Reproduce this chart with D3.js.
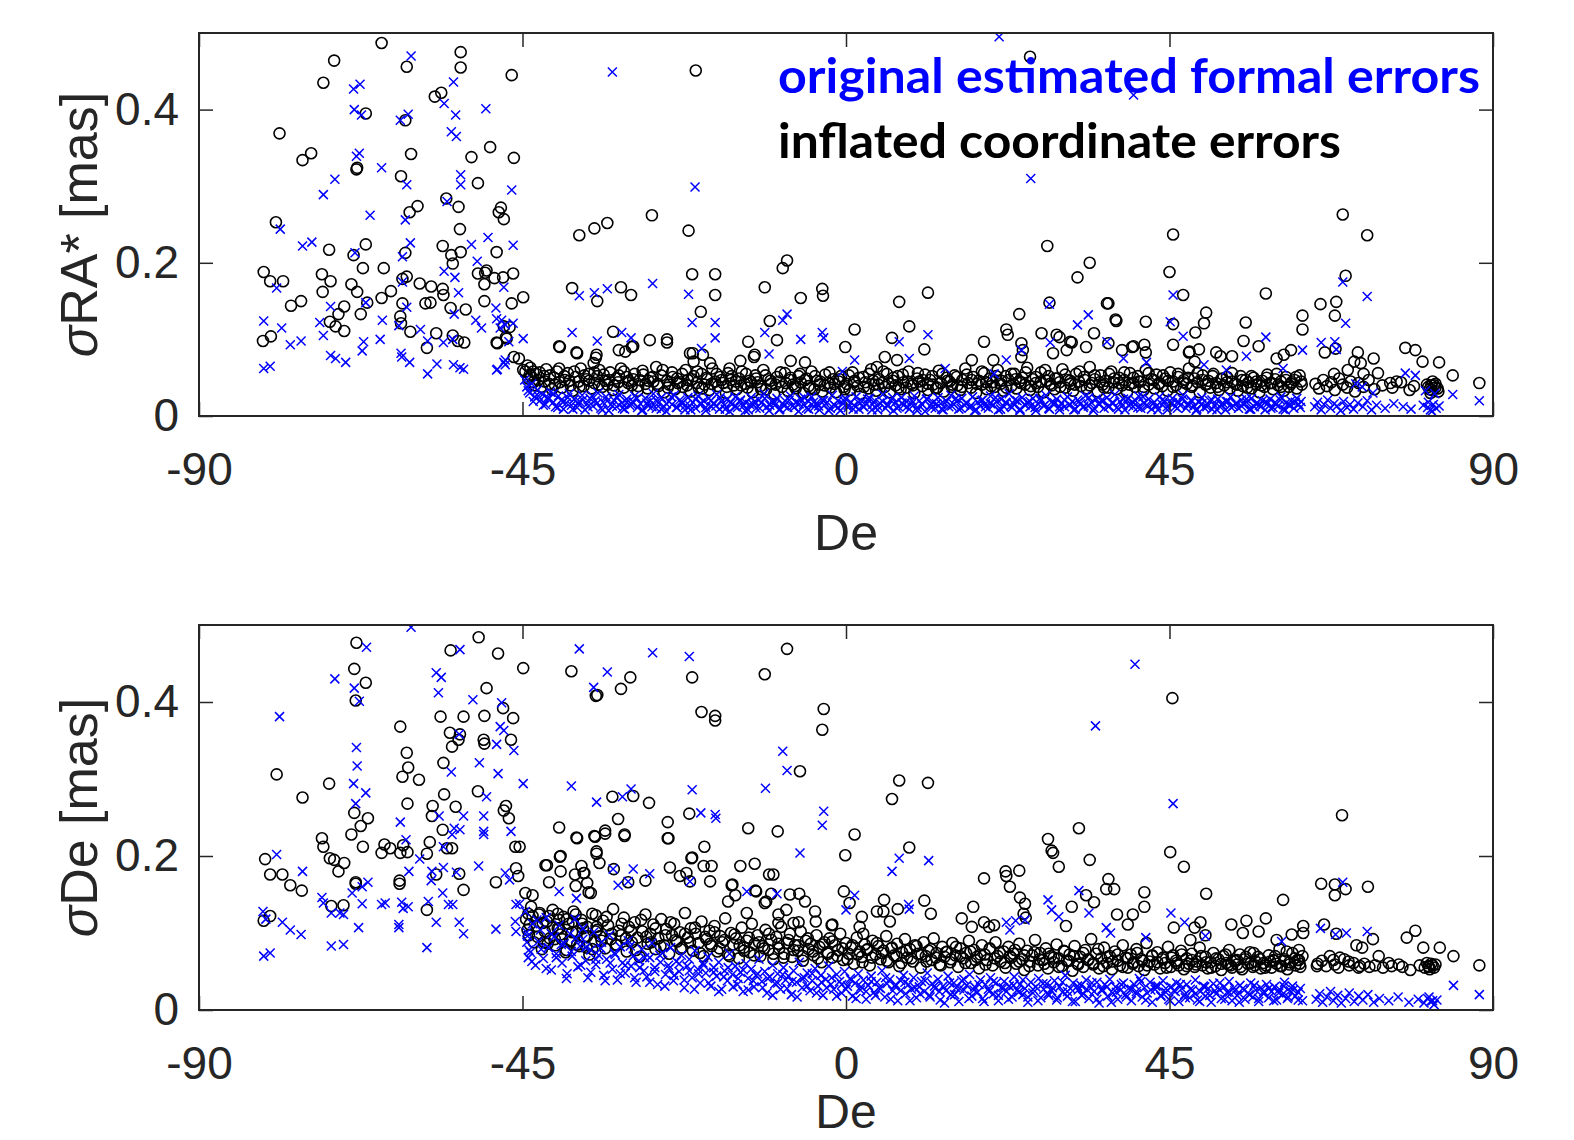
<!DOCTYPE html>
<html>
<head>
<meta charset="utf-8">
<script src="https://cdn.jsdelivr.net/npm/d3@7"></script>
<style>
  html, body { margin: 0; padding: 0; background: #ffffff; }
  svg { display: block; }
</style>
</head>
<body>
<svg id="chart" width="1574" height="1140"></svg>
<script>
// Each entry: [declination in degrees, error in µas]

// σRA*, inflated coordinate errors (black circles)
const raInflated = [
  [-64.6,487],[-71.2,464],[-72.7,435],[-61.1,456],[-53.6,475],[-53.6,455],[-46.5,445],[-57.2,417],[-56.3,422],[-66.8,395],
  [-61.3,386],[-78.8,369],[-75.6,334],[-74.4,343],[-60.5,342],[-52.1,338],[-49.5,351],[-46.2,337],[-68.1,322],[-68.0,324],
  [-61.9,313],[-51.2,304],[-55.6,284],[-53.9,273],[-59.6,274],[-60.7,266],[-48.0,272],[-48.3,266],[-47.6,257],[-79.3,253],
  [-53.7,244],[-71.9,217],[-66.8,224],[-68.5,210],[-56.1,222],[-54.9,210],[-53.6,214],[-54.7,199],[-61.3,213],[-48.6,214],
  [-81.0,188],[-80.1,176],[-78.3,176],[-72.9,185],[-71.7,176],[-67.2,193],[-64.3,193],[-68.8,172],[-68.0,162],[-72.8,162],
  [-67.5,133],[-61.1,182],[-61.7,179],[-59.3,173],[-57.7,169],[-56.1,166],[-56.0,158],[-51.2,186],[-50.2,187],[-50.0,190],
  [-48.9,180],[-47.7,181],[-46.3,186],[-50.3,172],[-50.3,150],[-44.9,155],[-46.5,147],[-75.8,150],[-77.2,144],[-64.6,154],
  [-63.3,163],[-66.6,148],[-61.7,147],[-58.5,147],[-57.8,148],[-55.0,141],[-52.9,139],[-69.8,143],[-70.6,133],[-71.8,123],
  [-71.0,117],[-69.8,111],[-62.0,130],[-61.9,121],[-60.6,110],[-57.0,108],[-58.3,89],[-54.7,105],[-54.0,98],[-53.1,96],
  [-47.6,117],[-46.8,116],[-47.3,103],[-48.5,95],[-81.1,98],[-80.0,104],[-46.2,77],[-45.5,75],[-48.6,96],[-47.2,101],
  [-20.9,451],[-37.1,236],[-35.0,245],[-33.2,252],[-27.0,262],[-21.9,242],[25.6,469],[28.0,222],[-38.1,167],[-34.6,150],
  [-31.3,168],[-29.9,158],[-21.4,185],[-18.2,185],[-18.2,158],[-20.2,136],[-32.4,110],[-11.3,168],[-8.8,193],[-8.2,203],
  [-6.3,154],[-3.3,166],[-3.2,157],[-10.6,124],[-9.6,99],[-13.6,97],[7.4,149],[11.4,161],[8.8,117],[1.2,113],
  [6.4,102],[-0.1,90],[10.9,87],[24.1,133],[22.3,113],[22.5,106],[19.2,97],[24.6,86],[24.4,77],[28.3,148],
  [27.2,108],[29.3,106],[31.2,97],[32.2,181],[-27.3,99],[-24.9,100],[-24.9,96],[-29.8,90],[-31.6,86],[-37.4,82],
  [-34.8,76],[-39.8,90],[-21.3,82],[-14.7,72],[-12.8,77],[-7.7,72],[-5.7,70],[4.3,64],[5.4,77],[7.1,73],
  [17.5,73],[20.5,73],[33.9,200],[45.5,237],[45.0,188],[46.9,158],[69.1,263],[72.5,236],[69.5,183],[58.4,160],
  [36.5,147],[37.5,126],[41.7,123],[45.5,120],[50.1,135],[49.8,121],[48.6,109],[34.5,108],[29.7,103],[31.4,96],
  [33.4,90],[55.6,122],[55.3,98],[57.4,91],[63.5,131],[63.5,113],[66.0,146],[68.2,149],[68.0,131],[66.6,83],
  [68.1,88],[77.8,89],[79.2,86],[80.2,71],[82.5,70],[84.4,53],[88.1,43],[71.2,83],[70.7,71],[71.6,69],
  [73.4,75],[61.9,86],[60.9,80],[59.9,75],[53.7,78],[52.1,78],[51.5,83],[47.7,83],[49.1,87],[39.8,90],
  [41.5,93],[41.7,83],[36.5,95],[38.4,86],[36.3,147],[37.6,124],[24.4,95],[28.8,82],[30.7,86],[45.5,93],
  [47.8,84],[48.5,71],[40.0,91],[-30.7,84],[-29.6,91],[-39.9,91],[-37.5,83],[-34.7,80],[-35.1,69],[-21.7,82],
  [-19.9,80],[-18.9,69],[-21.2,71],[-12.7,80],[-16.2,62],[-44.9,60],[-43.5,58],[-44.3,66],[-43.8,52],[74.0,56],
  [75.7,43],[76.6,45],[78.4,34],[81.0,38],[81.5,34],[82.0,42],[82.3,36],[81.3,30],[81.8,40],[72.0,55],
  [69.8,60],[67.9,55],
  [-44.6,58],[-44.2,49],[-43.9,63],[-43.5,44],[-43.1,55],[-42.8,47],[-42.4,38],[-42.0,52],[-41.7,61],[-41.3,42],
  [-40.9,35],[-40.6,50],[-40.2,58],[-39.8,44],[-39.5,37],[-39.1,47],[-38.7,56],[-38.3,40],[-38.0,33],[-37.6,51],
  [-37.2,45],[-36.9,62],[-36.5,39],[-36.1,48],[-35.8,55],[-35.4,36],[-35.0,43],[-34.6,52],[-34.3,60],[-33.9,38],
  [-33.5,46],[-33.2,41],[-32.8,57],[-32.4,34],[-32.0,49],[-31.7,44],[-31.3,62],[-30.9,37],[-30.5,51],[-30.2,46],
  [-29.8,40],[-29.4,55],[-29.0,33],[-28.7,47],[-28.3,59],[-27.9,42],[-27.6,36],[-27.2,50],[-26.8,45],[-26.4,64],
  [-26.1,39],[-25.7,53],[-25.3,31],[-24.9,46],[-24.6,41],[-24.2,57],[-23.8,35],[-23.5,49],[-23.1,44],[-22.7,38],
  [-22.3,60],[-22.0,47],[-21.6,32],[-21.2,52],[-20.8,43],[-20.5,37],[-20.1,55],[-19.7,41],[-19.3,48],[-19.0,34],
  [-18.6,62],[-18.2,45],[-17.8,39],[-17.5,51],[-17.1,43],[-16.7,30],[-16.4,56],[-16.0,47],[-15.6,40],[-15.2,35],
  [-14.9,49],[-14.5,58],[-14.1,42],[-13.7,37],[-13.4,46],[-13.0,31],[-12.6,53],[-12.3,44],[-11.9,39],[-11.5,60],
  [-11.1,35],[-10.8,48],[-10.4,42],[-10.0,29],[-9.6,51],[-9.3,45],[-8.9,38],[-8.5,56],[-8.1,33],[-7.8,47],
  [-7.4,41],[-7.0,36],[-6.6,52],[-6.3,44],[-5.9,30],[-5.5,49],[-5.2,39],[-4.8,58],[-4.4,35],[-4.0,46],
  [-3.7,41],[-3.3,32],[-2.9,54],[-2.5,43],[-2.2,37],[-1.8,48],[-1.4,31],[-1.0,45],[-0.7,52],[-0.3,38],
  [0.1,42],[0.5,34],[0.9,57],[1.2,46],[1.6,39],[2.0,29],[2.4,51],[2.7,44],[3.1,36],[3.5,61],
  [3.9,41],[4.2,33],[4.6,48],[5.0,43],[5.4,38],[5.7,55],[6.1,31],[6.5,46],[6.9,40],[7.2,52],
  [7.6,35],[8.0,44],[8.4,37],[8.7,58],[9.1,42],[9.5,30],[9.9,49],[10.2,45],[10.6,39],[11.0,54],
  [11.4,34],[11.7,47],[12.1,41],[12.5,36],[12.9,59],[13.2,43],[13.6,32],[14.0,50],[14.4,45],[14.7,38],
  [15.1,53],[15.5,40],[15.9,34],[16.2,47],[16.6,62],[17.0,43],[17.4,37],[17.7,51],[18.1,30],[18.5,46],
  [18.9,41],[19.2,56],[19.6,35],[20.0,49],[20.4,44],[20.7,38],[21.1,60],[21.5,42],[21.9,33],[22.2,52],
  [22.6,47],[23.0,39],[23.4,55],[23.7,36],[24.1,45],[24.5,50],[24.9,41],[25.2,63],[25.6,34],[26.0,48],
  [26.4,43],[26.7,38],[27.1,57],[27.5,31],[27.9,46],[28.2,52],[28.6,40],[29.0,35],[29.4,49],[29.7,44],
  [30.1,61],[30.5,37],[30.9,47],[31.2,42],[31.6,33],[32.0,55],[32.4,45],[32.7,39],[33.1,51],[33.5,36],
  [33.9,64],[34.2,43],[34.6,48],[35.0,32],[35.4,53],[35.7,41],[36.1,46],[36.5,37],[36.9,58],[37.2,44],
  [37.6,35],[38.0,50],[38.4,40],[38.7,47],[39.1,31],[39.5,56],[39.9,43],[40.2,38],[40.6,52],[41.0,45],
  [41.4,34],[41.7,60],[42.1,41],[42.5,48],[42.9,36],[43.2,54],[43.6,43],[44.0,39],[44.4,49],[44.7,33],
  [45.1,57],[45.5,45],[45.9,40],[46.2,51],[46.6,35],[47.0,47],[47.4,42],[47.7,62],[48.1,38],[48.5,49],
  [48.9,44],[49.2,31],[49.6,53],[50.0,41],[50.4,46],[50.7,37],[51.1,55],[51.5,43],[51.9,34],[52.2,48],
  [52.6,40],[53.0,51],[53.4,36],[53.7,45],[54.1,42],[54.5,33],[54.9,52],[55.2,39],[55.6,47],[56.0,44],
  [56.4,36],[56.7,50],[57.1,41],[57.5,31],[57.9,46],[58.2,38],[58.6,54],[59.0,43],[59.4,35],[59.7,48],
  [60.1,40],[60.5,45],[60.9,33],[61.2,51],[61.6,38],[62.0,44],[62.4,47],[62.7,36],[63.1,53],[63.4,41],
  [65.3,42],[65.8,36],[66.4,47],[66.9,39],[67.5,44],[68.0,34],[68.6,49],[69.1,41],[69.7,37],[70.2,45],
  [70.8,32],[71.3,43],[72.0,38],[72.7,47],[73.5,35],[74.6,40],[76.0,37],[77.2,44],[79.0,39],[80.8,41],
  [81.2,35],[81.6,45],[82.0,37],[82.4,32],[81.4,40],
  [-44.0,54],[-43.3,40],[-42.6,57],[-41.9,45],[-41.2,53],[-40.5,41],[-39.9,62],[-39.2,52],[-38.5,46],[-37.8,58],
  [-37.1,38],[-36.4,53],[-35.7,46],[-35.0,57],[-34.4,41],[-33.7,54],[-33.0,47],[-32.3,40],[-31.6,53],[-30.9,58],
  [-30.3,43],[-29.6,48],[-28.9,39],[-28.2,54],[-27.5,46],[-26.9,51],[-26.2,42],[-25.5,60],[-24.8,37],[-24.1,51],
  [-23.4,43],[-22.8,55],[-22.1,40],[-21.4,48],[-20.7,58],[-20.0,36],[-19.4,50],[-18.7,42],[-18.0,55],[-17.3,47],
  [-16.6,38],[-15.9,52],[-15.3,45],[-14.6,40],[-13.9,55],[-13.2,44],[-12.5,49],[-11.8,35],[-11.2,53],[-10.5,46],
  [-9.8,41],[-9.1,57],[-8.4,43],[-7.7,50],[-7.1,39],[-6.4,55],[-5.7,47],[-5.0,36],[-4.3,52],[-3.6,45],
  [-3.0,40],[-2.3,57],[-1.6,42],[-0.9,48],[-0.2,35],[0.4,53],[1.1,44],[1.8,50],[2.5,38],[3.2,55],
  [3.8,46],[4.5,41],[5.2,58],[5.9,43],[6.6,50],[7.3,37],[7.9,54],[8.6,45],[9.3,40],[10.0,56],
  [10.7,47],[11.4,42],[12.0,52],[12.7,37],[13.4,55],[14.1,46],[14.8,41],[15.4,51],[16.1,38],[16.8,54],
  [17.5,47],[18.2,42],[18.9,58],[19.5,44],[20.2,39],[20.9,52],[21.6,46],[22.3,37],[23.0,55],[23.6,48],
  [24.3,43],[25.0,57],[25.7,39],[26.4,51],[27.1,45],[27.7,60],[28.4,42],[29.1,49],[29.8,38],[30.5,54],
  [31.2,46],[31.8,41],[32.5,58],[33.2,47],[33.9,40],[34.6,53],[35.3,44],[35.9,37],[36.6,55],[37.3,49],
  [38.0,43],[38.7,57],[39.4,41],[40.0,50],[40.7,45],[41.4,38],[42.1,56],[42.8,47],[43.5,42],[44.1,53],
  [44.8,46],[45.5,38],[46.2,55],[46.9,44],[47.6,50],[48.2,40],[48.9,56],[49.6,47],[50.3,42],[51.0,52],
  [51.7,38],[52.3,49],[53.0,44],[53.7,56],[54.4,41],[55.1,47],[55.8,37],[56.4,52],[57.1,45],[57.8,40],
  [58.5,50],[59.2,43],[59.9,55],[60.5,38],[61.2,47],[61.9,42],[62.6,51],[63.3,45]
];

// σRA*, original estimated formal errors (blue crosses)
const raFormal = [
  [-60.5,470],[-68.5,427],[-67.6,433],[-54.6,436],[-55.9,408],[-50.1,401],[-68.4,400],[-67.4,393],[-62.0,386],[-60.9,394],
  [-54.3,393],[-54.9,371],[-54.2,365],[-68.1,339],[-67.7,343],[-64.6,324],[-71.1,309],[-72.7,289],[-53.6,315],[-53.6,302],
  [-61.1,302],[-46.5,295],[-55.5,280],[-66.2,262],[-61.3,256],[-78.7,244],[-75.6,222],[-74.3,227],[-60.6,226],[-52.1,224],
  [-49.8,233],[-46.3,223],[-68.3,213],[-61.7,208],[-51.3,202],[-55.9,189],[-54.4,181],[-61.7,175],[-79.2,167],[-47.6,168],
  [-66.8,148],[-53.9,161],[-71.7,143],[-61.1,142],[-48.7,141],[-54.5,133],[-81.0,124],[-78.5,115],[-73.2,122],[-72.7,105],
  [-64.5,125],[-62.2,118],[-59.2,113],[-51.5,125],[-50.7,115],[-48.6,127],[-48.1,115],[-44.9,101],[-77.3,93],[-75.8,98],
  [-64.8,100],[-58.2,98],[-56.0,96],[-54.7,100],[-46.9,97],[-71.7,79],[-71.0,75],[-69.6,70],[-67.3,85],[-61.9,82],
  [-61.8,77],[-60.7,70],[-67.1,97],[-58.2,55],[-56.9,68],[-54.6,67],[-53.7,63],[-53.2,61],[-48.5,61],[-81.0,62],
  [-80.1,65],[-47.6,70],[-47.9,125],[-46.3,121],[-47.4,119],[-48.6,60],[-47.4,73],[-47.4,67],
  [-32.5,449],[21.3,495],[-21.0,299],[25.7,310],[-37.1,157],[-35.0,161],[-33.2,166],[-26.9,173],[-21.9,159],[-21.4,122],
  [-18.2,122],[-18.2,102],[-38.1,109],[-34.6,98],[-31.2,109],[-29.9,102],[-11.3,109],[-8.8,125],[-8.2,133],[-6.3,100],
  [-3.3,109],[-3.1,102],[-10.7,81],[-20.1,88],[7.4,97],[11.4,106],[8.8,75],[1.2,73],[28.3,146],[28.4,96],
  [32.2,119],[22.3,73],[24.4,86],[40.0,419],[33.7,132],[45.1,123],[36.3,97],[46.9,104],[-0.5,58],[13.8,62],
  [20.6,55],[45.5,158],[69.1,175],[72.5,156],[69.5,121],[58.4,103],[68.0,97],[68.2,87],[66.1,96],[63.5,86],
  [55.7,78],[77.8,56],[79.2,53],[84.4,28],[88.1,20],[38.6,75],[41.8,70],[49.8,67],[52.9,60],[60.8,62],
  [70.9,42],[71.8,38],[73.3,30],[80.6,33],[81.9,29],
  [-44.7,47],[-44.4,38],[-44.0,30],[-43.7,42],[-43.3,25],[-42.9,34],[-42.6,20],[-42.2,28],[-41.8,15],[-41.5,24],
  [-41.1,31],[-40.7,18],[-40.4,12],[-40.0,26],[-39.6,21],[-39.3,9],[-38.9,17],[-38.5,29],[-38.2,14],[-37.8,22],
  [-37.4,11],[-37.1,19],[-36.7,27],[-36.3,8],[-36.0,16],[-35.6,23],[-35.2,13],[-34.9,20],[-34.5,30],[-34.1,10],
  [-33.8,18],[-33.4,25],[-33.0,7],[-32.7,15],[-32.3,21],[-31.9,12],[-31.6,28],[-31.2,17],[-30.8,9],[-30.5,22],
  [-30.1,14],[-29.7,19],[-29.4,26],[-29.0,11],[-28.6,16],[-28.3,8],[-27.9,23],[-27.5,13],[-27.2,20],[-26.8,29],
  [-26.4,10],[-26.1,17],[-25.7,24],[-25.3,12],[-25.0,6],[-24.6,19],[-24.2,15],[-23.9,27],[-23.5,11],[-23.1,21],
  [-22.8,16],[-22.4,8],[-22.0,24],[-21.7,13],[-21.3,18],[-20.9,10],[-20.6,26],[-20.2,15],[-19.8,20],[-19.5,7],
  [-19.1,23],[-18.7,12],[-18.4,17],[-18.0,28],[-17.6,9],[-17.3,19],[-16.9,14],[-16.5,22],[-16.2,6],[-15.8,16],
  [-15.4,25],[-15.1,11],[-14.7,20],[-14.3,13],[-14.0,18],[-13.6,8],[-13.2,24],[-12.9,15],[-12.5,10],[-12.1,21],
  [-11.8,17],[-11.4,29],[-11.0,12],[-10.7,7],[-10.3,19],[-9.9,14],[-9.6,23],[-9.2,9],[-8.8,16],[-8.5,20],
  [-8.1,11],[-7.7,26],[-7.4,13],[-7.0,18],[-6.6,6],[-6.3,22],[-5.9,15],[-5.5,10],[-5.2,19],[-4.8,25],
  [-4.4,12],[-4.1,17],[-3.7,8],[-3.3,21],[-3.0,14],[-2.6,18],[-2.2,10],[-1.9,27],[-1.5,13],[-1.1,20],
  [-0.8,7],[-0.4,16],[0.0,22],[0.3,11],[0.7,18],[1.1,14],[1.4,25],[1.8,9],[2.2,19],[2.5,12],
  [2.9,16],[3.3,23],[3.6,8],[4.0,20],[4.4,13],[4.7,17],[5.1,28],[5.5,10],[5.8,15],[6.2,21],
  [6.6,7],[6.9,18],[7.3,12],[7.7,24],[8.0,14],[8.4,19],[8.8,9],[9.1,16],[9.5,26],[9.9,11],
  [10.2,20],[10.6,15],[11.0,6],[11.3,22],[11.7,13],[12.1,18],[12.4,10],[12.8,24],[13.2,16],[13.5,8],
  [13.9,20],[14.3,12],[14.6,27],[15.0,15],[15.4,19],[15.7,9],[16.1,23],[16.5,14],[16.8,17],[17.2,11],
  [17.6,25],[17.9,7],[18.3,18],[18.7,13],[19.0,21],[19.4,16],[19.8,10],[20.1,26],[20.5,14],[20.9,19],
  [21.2,8],[21.6,22],[22.0,12],[22.3,17],[22.7,29],[23.1,11],[23.4,15],[23.8,20],[24.2,9],[24.5,24],
  [24.9,14],[25.3,18],[25.6,12],[26.0,23],[26.4,7],[26.7,16],[27.1,20],[27.5,13],[27.8,27],[28.2,10],
  [28.6,18],[28.9,15],[29.3,22],[29.7,8],[30.0,17],[30.4,12],[30.8,25],[31.1,14],[31.5,19],[31.9,9],
  [32.2,21],[32.6,16],[33.0,11],[33.3,26],[33.7,13],[34.1,18],[34.4,7],[34.8,22],[35.2,15],[35.5,20],
  [35.9,10],[36.3,24],[36.6,13],[37.0,17],[37.4,28],[37.7,11],[38.1,19],[38.5,14],[38.8,8],[39.2,23],
  [39.6,16],[39.9,12],[40.3,20],[40.7,26],[41.0,10],[41.4,17],[41.8,14],[42.1,22],[42.5,9],[42.9,18],
  [43.2,13],[43.6,25],[44.0,15],[44.3,20],[44.7,8],[45.1,17],[45.4,23],[45.8,12],[46.2,19],[46.5,14],
  [46.9,27],[47.3,10],[47.6,16],[48.0,21],[48.4,13],[48.7,7],[49.1,18],[49.5,24],[49.8,11],[50.2,16],
  [50.6,20],[50.9,9],[51.3,14],[51.7,22],[52.0,12],[52.4,17],[52.8,8],[53.1,19],[53.5,25],[53.9,13],
  [54.2,16],[54.6,10],[55.0,21],[55.3,15],[55.7,18],[56.1,9],[56.4,23],[56.8,12],[57.2,17],[57.5,14],
  [57.9,20],[58.3,8],[58.6,16],[59.0,22],[59.4,11],[59.7,18],[60.1,13],[60.5,25],[60.8,9],[61.2,17],
  [61.6,14],[61.9,20],[62.3,10],[62.7,23],[63.0,15],[63.3,19],[65.2,12],[65.6,18],[66.1,8],[66.5,15],
  [67.0,21],[67.4,10],[67.9,16],[68.3,13],[68.8,7],[69.2,19],[69.7,11],[70.1,15],[70.6,9],[71.2,17],
  [71.9,12],[72.5,20],[73.1,8],[73.8,14],[75.0,10],[76.2,16],[77.5,12],[78.6,9],[80.3,14],[80.9,11],
  [81.3,8],[81.7,15],[82.1,10],[82.5,13],[81.0,18],[81.5,6],
  [-44.2,33],[-43.5,19],[-42.8,26],[-42.1,14],[-41.4,22],[-40.7,29],[-40.1,11],[-39.4,18],[-38.7,24],[-38.0,9],
  [-37.3,16],[-36.6,21],[-35.9,12],[-35.3,26],[-34.6,17],[-33.9,8],[-33.2,20],[-32.5,13],[-31.8,24],[-31.1,10],
  [-30.5,18],[-29.8,15],[-29.1,23],[-28.4,7],[-27.7,17],[-27.0,12],[-26.4,21],[-25.7,9],[-25.0,16],[-24.3,25],
  [-23.6,11],[-22.9,19],[-22.3,14],[-21.6,8],[-20.9,22],[-20.2,17],[-19.5,11],[-18.8,20],[-18.1,13],[-17.5,24],
  [-16.8,9],[-16.1,17],[-15.4,12],[-14.7,21],[-14.0,7],[-13.4,15],[-12.7,19],[-12.0,10],[-11.3,23],[-10.6,14],
  [-9.9,18],[-9.3,8],[-8.6,13],[-7.9,21],[-7.2,11],[-6.5,16],[-5.8,24],[-5.2,9],[-4.5,18],[-3.8,13],
  [-3.1,20],[-2.4,7],[-1.7,15],[-1.1,11],[-0.4,21],[0.3,14],[1.0,9],[1.7,18],[2.4,12],[3.0,22],
  [3.7,15],[4.4,8],[5.1,19],[5.8,13],[6.5,24],[7.1,10],[7.8,17],[8.5,12],[9.2,20],[9.9,7],
  [10.6,15],[11.2,22],[11.9,11],[12.6,16],[13.3,9],[14.0,19],[14.7,13],[15.3,23],[16.0,10],[16.7,17],
  [17.4,14],[18.1,8],[18.8,20],[19.4,12],[20.1,16],[20.8,24],[21.5,9],[22.2,18],[22.9,13],[23.5,21],
  [24.2,7],[24.9,15],[25.6,19],[26.3,11],[27.0,23],[27.6,14],[28.3,9],[29.0,17],[29.7,12],[30.4,21],
  [31.1,15],[31.7,8],[32.4,19],[33.1,13],[33.8,24],[34.5,10],[35.2,16],[35.8,20],[36.5,12],[37.2,17],
  [37.9,9],[38.6,22],[39.3,14],[39.9,18],[40.6,11],[41.3,25],[42.0,13],[42.7,16],[43.4,8],[44.0,21],
  [44.7,12],[45.4,17],[46.1,10],[46.8,22],[47.5,14],[48.1,19],[48.8,9],[49.5,16],[50.2,12],[50.9,21],
  [51.6,8],[52.2,15],[52.9,19],[53.6,11],[54.3,17],[55.0,13],[55.7,22],[56.3,9],[57.0,16],[57.7,12],
  [58.4,19],[59.1,10],[59.8,15],[60.4,21],[61.1,8],[61.8,14],[62.5,18],[63.2,11]
];

// σDe, inflated coordinate errors (black circles)
const deInflated = [
  [-68.1,477],[-68.4,443],[-66.8,425],[-68.2,402],[-55.0,467],[-51.1,484],[-48.4,463],[-44.9,444],[-38.2,440],[-34.8,408],
  [-50.0,418],[-47.7,392],[-46.3,379],[-50.3,382],[-53.2,381],[-56.4,381],[-62.0,368],[-55.1,360],[-53.7,358],[-53.9,351],
  [-54.8,342],[-50.4,351],[-50.3,346],[-46.6,351],[-61.1,334],[-60.9,315],[-61.7,303],[-59.4,299],[-56.0,321],[-79.2,306],
  [-71.9,294],[-75.6,276],[-55.9,280],[-51.2,284],[-61.0,268],[-57.5,265],[-57.6,252],[-54.3,264],[-47.3,265],[-47.6,259],
  [-46.9,249],[-68.4,256],[-66.5,249],[-67.5,239],[-68.8,228],[-67.2,212],[-72.9,223],[-72.7,212],[-71.8,197],[-71.2,195],
  [-70.6,180],[-69.8,191],[-56.1,234],[-57.9,218],[-58.3,203],[-64.2,215],[-63.4,210],[-64.6,204],[-61.6,214],[-61.0,205],
  [-62.0,204],[-55.5,210],[-54.8,210],[-46.0,212],[-45.4,212],[-45.9,184],[-45.6,174],[-48.7,166],[-53.8,177],[-53.2,156],
  [-57.0,176],[-80.8,196],[-80.1,176],[-78.4,176],[-77.3,162],[-75.7,155],[-68.2,166],[-68.2,164],[-62.1,168],[-62.1,164],
  [-81.0,116],[-80.1,122],[-71.6,135],[-69.9,136],[-58.3,130],[-44.6,152],[-43.6,149],
  [-39.9,237],[-37.5,224],[-35.0,226],[-41.8,188],[-39.7,200],[-39.7,180],[-41.3,166],[-37.7,176],[-36.8,187],[-36.4,178],
  [-37.6,161],[-35.8,153],[-44.2,125],[-44.0,111],[-42.6,126],[-41.3,122],[-39.9,117],[-39.9,106],[-38.0,115],[-37.6,124],
  [-36.6,106],[-42.0,88],[-40.5,92],[-38.9,78],[-36.1,81],[-38.4,89],[-34.8,102],[-34.8,123],
  [-8.2,469],[-11.3,436],[-21.4,432],[-30.0,432],[-31.3,417],[-34.6,409],[-20.1,387],[-18.2,382],[-18.2,376],[-3.1,391],
  [-3.3,364],[-6.4,310],[6.4,274],[7.4,298],[11.4,295],[8.8,211],[1.2,228],[-0.1,201],[-32.5,277],[-29.6,278],
  [-27.4,269],[-31.7,248],[-30.8,228],[-33.5,233],[-24.8,244],[-24.8,223],[-21.8,255],[-13.6,236],[-9.5,232],[-19.7,212],
  [-21.4,198],[-19.8,187],[-18.7,187],[-18.9,167],[-14.7,187],[-12.7,190],[-10.7,176],[-10.1,176],[-34.7,206],[-34.3,191],
  [-24.5,185],[-23.1,174],[-22.2,178],[-21.7,167],[-27.9,168],[-30.3,166],[-15.8,163],[-15.4,149],[-12.6,155],[19.2,171],
  [22.2,180],[22.3,174],[24.1,181],[22.8,160],[24.2,146],[24.9,138],[24.7,125],[17.7,134],[16.1,119],[10.9,142],
  [11.8,125],[5.3,143],[4.3,128],[5.2,128],[7.2,131],[-0.3,154],[0.5,139],[2.2,121],[-7.8,150],[-6.5,151],
  [-5.7,141],[-4.3,128],[-4.2,115],[-1.9,111],[-11.3,139],[-10.4,151],[-9.4,124],[-8.3,130],[-9.4,113],[-7.3,113],
  [-6.6,114],[-36.0,165],[-35.5,152],[-36.5,178],[-39.8,199],[-41.6,188],[-34.7,203],[-37.4,223],[-34.9,225],[-33.5,229],
  [-30.8,226],[-32.3,183],[-24.7,223],[-21.5,197],[-15.9,162],[-16.4,141],[-12.5,154],[-11.1,141],[-13.8,126],[-2.0,110],
  [6.1,115],[1.9,108],[2.4,99],[28.1,222],[28.6,207],[28.8,204],[29.6,186],[33.9,195],[25.0,120],[17.5,108],
  [19.2,114],[19.9,108],[20.6,110],[31.4,134],[33.4,149],[34.5,140],[30.6,109],[36.2,157],[37.3,157],[36.5,170],
  [37.7,124],[39.9,124],[39.2,111],[41.5,134],[41.5,153],[45.1,205],[47.0,186],[45.6,107],[48.5,107],[47.9,91],
  [32.4,236],[45.4,405],[69.0,253],[50.1,151],[60.8,143],[66.1,164],[68.0,163],[68.0,149],[69.5,157],[72.6,160],
  [53.6,111],[55.7,116],[55.2,100],[57.4,102],[58.4,119],[49.3,114],[50.0,97],[62.0,98],[63.6,109],[63.6,100],
  [59.9,91],[66.5,111],[68.2,99],[71.0,84],[71.8,81],[73.3,92],[78.0,94],[79.2,103],[80.3,81],[82.6,81],
  [84.5,70],[88.1,58],[65.5,57],[67.8,65],[68.7,68],[69.9,63],[71.5,57],[74.1,70],[75.5,61],[76.9,59],
  [78.5,52],[61.3,76],[63.0,78],[63.0,65],[59.5,65],[56.7,74],[54.4,65],[53.2,59],[81.0,57],[81.4,60],
  [81.8,55],[81.2,53],[81.6,58],[80.8,61],
  [-44.5,118],[-44.1,97],[-43.8,134],[-43.4,88],[-43.0,109],[-42.7,124],[-42.3,79],[-41.9,102],[-41.6,115],[-41.2,93],
  [-40.8,130],[-40.4,84],[-40.1,106],[-39.7,98],[-39.3,121],[-39.0,75],[-38.6,112],[-38.2,90],[-37.9,128],[-37.5,101],
  [-37.1,83],[-36.8,117],[-36.4,95],[-36.0,108],[-35.7,72],[-35.3,125],[-34.9,89],[-34.6,104],[-34.2,96],[-33.8,116],
  [-33.5,80],[-33.1,110],[-32.7,92],[-32.4,131],[-32.0,85],[-31.6,103],[-31.3,97],[-30.9,120],[-30.5,76],[-30.2,108],
  [-29.8,88],[-29.4,114],[-29.0,94],[-28.7,69],[-28.3,102],[-27.9,124],[-27.6,86],[-27.2,99],[-26.8,111],[-26.5,79],
  [-26.1,93],[-25.7,118],[-25.3,84],[-25.0,105],[-24.6,73],[-24.2,97],[-23.9,112],[-23.5,89],[-23.1,101],[-22.8,81],
  [-22.4,126],[-22.0,94],[-21.6,106],[-21.3,77],[-20.9,99],[-20.5,87],[-20.1,115],[-19.8,70],[-19.4,92],[-19.0,103],
  [-18.7,83],[-18.3,109],[-17.9,76],[-17.5,96],[-17.2,88],[-16.8,119],[-16.4,72],[-16.0,100],[-15.7,85],[-15.3,93],
  [-14.9,67],[-14.5,107],[-14.2,81],[-13.8,90],[-13.4,75],[-13.1,112],[-12.7,86],[-12.3,97],[-11.9,70],[-11.6,83],
  [-11.2,104],[-10.8,78],[-10.4,91],[-10.1,66],[-9.7,95],[-9.3,80],[-9.0,108],[-8.6,73],[-8.2,87],[-7.8,99],
  [-7.5,69],[-7.1,84],[-6.7,77],[-6.3,102],[-6.0,64],[-5.6,90],[-5.2,79],[-4.9,86],[-4.5,71],[-4.1,97],
  [-3.7,82],[-3.4,62],[-3.0,88],[-2.6,75],[-2.3,93],[-1.9,68],[-1.5,84],[-1.1,78],[-0.8,99],[-0.4,65],
  [0.0,87],[0.4,73],[0.7,81],[1.1,60],[1.5,94],[1.9,76],[2.2,69],[2.6,85],[3.0,79],[3.3,58],
  [3.7,90],[4.1,72],[4.5,83],[4.8,66],[5.2,77],[5.6,96],[5.9,62],[6.3,80],[6.7,71],[7.1,86],
  [7.4,57],[7.8,75],[8.2,92],[8.5,68],[8.9,79],[9.3,63],[9.6,84],[10.0,73],[10.4,55],[10.8,88],
  [11.1,70],[11.5,77],[11.9,65],[12.2,93],[12.6,74],[13.0,59],[13.4,82],[13.7,69],[14.1,76],[14.5,62],
  [14.8,87],[15.2,71],[15.6,56],[15.9,80],[16.3,67],[16.7,74],[17.1,90],[17.4,61],[17.8,78],[18.2,69],
  [18.5,54],[18.9,84],[19.3,72],[19.6,65],[20.0,79],[20.4,58],[20.8,88],[21.1,70],[21.5,63],[21.9,76],
  [22.2,55],[22.6,82],[23.0,68],[23.3,73],[23.7,60],[24.1,86],[24.5,66],[24.8,52],[25.2,77],[25.6,63],
  [25.9,71],[26.3,91],[26.7,58],[27.0,74],[27.4,65],[27.8,80],[28.1,54],[28.5,70],[28.9,62],[29.3,85],
  [29.6,67],[30.0,57],[30.4,76],[30.7,64],[31.1,72],[31.5,51],[31.8,83],[32.2,60],[32.6,69],[33.0,56],
  [33.3,78],[33.7,65],[34.1,92],[34.4,59],[34.8,73],[35.2,54],[35.5,67],[35.9,81],[36.3,61],[36.7,70],
  [37.0,53],[37.4,76],[37.8,64],[38.1,58],[38.5,84],[38.9,68],[39.2,55],[39.6,72],[40.0,62],[40.4,79],
  [40.7,57],[41.1,66],[41.5,52],[41.8,87],[42.2,63],[42.6,70],[42.9,59],[43.3,75],[43.7,54],[44.1,68],
  [44.4,61],[44.8,82],[45.2,56],[45.5,71],[45.9,64],[46.3,58],[46.6,77],[47.0,53],[47.4,67],[47.7,60],
  [48.1,73],[48.5,56],[48.8,63],[49.2,81],[49.6,58],[50.0,69],[50.3,54],[50.7,62],[51.1,74],[51.4,57],
  [51.8,66],[52.2,52],[52.5,70],[52.9,61],[53.3,78],[53.7,55],[54.0,64],[54.4,59],[54.8,72],[55.1,53],
  [55.5,66],[55.9,60],[56.2,75],[56.6,56],[57.0,63],[57.3,69],[57.7,54],[58.1,61],[58.4,58],[58.8,71],
  [59.2,55],[59.5,64],[59.9,60],[60.3,79],[60.6,57],[61.0,66],[61.4,53],[61.7,62],[62.1,74],[62.5,58],
  [62.8,65],[63.2,56],[63.5,70],[65.6,60],[66.2,64],[66.8,57],[67.3,70],[68.0,59],[68.5,55],[69.3,66],
  [70.0,58],[70.6,61],[71.3,55],[72.1,60],[72.8,56],[73.6,58],[74.7,55],[75.9,57],[77.4,56],[79.8,58],
  [80.5,55],[81.1,56],[82.0,59],
  [-44.3,104],[-43.6,122],[-42.9,95],[-42.2,113],[-41.5,86],[-40.8,107],[-40.1,125],[-39.5,92],[-38.8,118],[-38.1,101],
  [-37.4,85],[-36.7,112],[-36.0,96],[-35.3,79],[-34.7,108],[-34.0,90],[-33.3,121],[-32.6,99],[-31.9,84],[-31.2,112],
  [-30.6,93],[-29.9,103],[-29.2,78],[-28.5,117],[-27.8,95],[-27.1,88],[-26.5,106],[-25.8,83],[-25.1,97],[-24.4,114],
  [-23.7,91],[-23.0,79],[-22.4,99],[-21.7,88],[-21.0,107],[-20.3,74],[-19.6,95],[-18.9,86],[-18.3,101],[-17.6,80],
  [-16.9,91],[-16.2,70],[-15.5,98],[-14.8,84],[-14.2,77],[-13.5,94],[-12.8,71],[-12.1,88],[-11.4,80],[-10.7,99],
  [-10.1,73],[-9.4,86],[-8.7,68],[-8.0,91],[-7.3,78],[-6.6,84],[-6.0,70],[-5.3,93],[-4.6,76],[-3.9,67],
  [-3.2,85],[-2.5,73],[-1.9,89],[-1.2,70],[-0.5,80],[0.2,66],[0.9,84],[1.6,72],[2.3,62],[2.9,78],
  [3.6,68],[4.3,87],[5.0,74],[5.7,64],[6.4,81],[7.0,70],[7.7,61],[8.4,77],[9.1,67],[9.8,83],
  [10.5,72],[11.2,63],[11.8,79],[12.5,68],[13.2,58],[13.9,75],[14.6,66],[15.3,82],[15.9,70],[16.6,61],
  [17.3,76],[18.0,65],[18.7,72],[19.4,59],[20.0,80],[20.7,67],[21.4,74],[22.1,61],[22.8,70],[23.5,78],
  [24.1,63],[24.8,71],[25.5,57],[26.2,75],[26.9,66],[27.6,60],[28.2,73],[28.9,68],[29.6,56],[30.3,77],
  [31.0,64],[31.7,70],[32.3,59],[33.0,74],[33.7,66],[34.4,61],[35.1,79],[35.8,57],[36.4,69],[37.1,63],
  [37.8,72],[38.5,56],[39.2,67],[39.9,60],[40.5,74],[41.2,64],[41.9,58],[42.6,71],[43.3,62],[44.0,66],
  [44.6,55],[45.3,68],[46.0,61],[46.7,72],[47.4,57],[48.1,65],[48.7,59],[49.4,70],[50.1,62],[50.8,55],
  [51.5,67],[52.2,60],[52.8,72],[53.5,58],[54.2,64],[54.9,56],[55.6,69],[56.3,61],[56.9,58],[57.6,66],
  [58.3,55],[59.0,63],[59.7,70],[60.4,57],[61.0,64],[61.7,59],[62.4,67],[63.1,60]
];

// σDe, original estimated formal errors (blue crosses)
const deFormal = [
  [-60.5,497],[-66.7,471],[-53.7,468],[-37.1,469],[-71.1,430],[-68.4,418],[-67.7,401],[-57.0,438],[-56.3,432],[-56.7,412],
  [-51.9,403],[-47.9,399],[-35.1,419],[-78.8,381],[-48.1,368],[-47.6,363],[-53.8,358],[-48.6,345],[-46.2,337],[-68.1,341],
  [-68.0,317],[-68.5,294],[-51.0,321],[-54.9,309],[-48.4,307],[-44.9,294],[-38.2,291],[-34.7,270],[-66.8,282],[-68.2,268],
  [-50.0,277],[-62.0,244],[-56.6,252],[-53.2,252],[-50.4,252],[-50.4,232],[-50.4,228],[-46.6,232],[-54.5,236],[-53.7,234],
  [-54.8,228],[-61.2,221],[-56.0,212],[-56.0,185],[-79.2,202],[-75.6,180],[-59.3,196],[-51.1,187],[-60.8,180],[-57.6,180],
  [-57.7,168],[-54.2,179],[-47.4,178],[-46.8,169],[-66.5,166],[-67.3,160],[-68.7,152],[-56.1,152],[-81.1,128],[-80.7,118],
  [-72.9,146],[-72.7,139],[-71.6,126],[-70.4,126],[-69.9,124],[-78.4,114],[-77.3,104],[-75.8,98],[-67.3,138],[-64.6,137],
  [-64.1,139],[-61.8,140],[-61.6,132],[-60.9,134],[-58.1,141],[-55.3,137],[-54.7,137],[-67.8,107],[-62.2,107],[-62.2,111],
  [-57.0,114],[-53.8,114],[-53.2,99],[-48.7,105],[-71.6,83],[-69.9,85],[-58.3,81],[-81.0,70],[-80.1,74],[-45.9,137],
  [-45.4,138],[-46.0,115],[-45.9,102],[-44.4,101],[-44.1,78],[-44.2,68],[-39.9,154],[-37.5,145],[-36.6,106],
  [-33.2,439],[-26.9,464],[-21.8,459],[-8.8,336],[-8.2,311],[-11.2,288],[-3.1,258],[-3.3,240],[-6.4,204],[7.4,197],
  [6.4,180],[11.5,194],[8.7,137],[1.2,149],[0.0,130],[-21.4,286],[-29.9,287],[-31.1,277],[-20.2,256],[-18.2,254],
  [-18.1,249],[-32.4,183],[-29.6,183],[-27.3,177],[-21.7,167],[-31.7,162],[-30.3,167],[-13.8,154],[-9.6,151],[22.3,114],
  [24.9,117],[8.8,131],[28.1,143],[28.6,130],[29.6,121],[32.4,155],[33.8,126],[23.6,116],[22.8,104],[36.2,107],
  [36.8,100],[45.2,126],[47.1,114],[41.7,94],[40.2,449],[34.7,369],[45.5,268],[69.1,166],[66.0,106],[68.1,98],
  [69.6,100],[72.5,102],[60.6,89],[50.0,96],[84.5,32],[88.1,20],
  [-44.6,128],[-44.3,96],[-43.9,75],[-43.6,112],[-43.2,58],[-42.8,89],[-42.5,104],[-42.1,67],[-41.7,120],[-41.4,81],
  [-41.0,52],[-40.6,95],[-40.3,73],[-39.9,110],[-39.5,61],[-39.2,86],[-38.8,47],[-38.4,99],[-38.1,70],[-37.7,118],
  [-37.3,56],[-37.0,83],[-36.6,92],[-36.2,64],[-35.9,42],[-35.5,78],[-35.1,101],[-34.8,59],[-34.4,71],[-34.0,88],
  [-33.7,45],[-33.3,66],[-32.9,97],[-32.5,53],[-32.2,74],[-31.8,39],[-31.4,82],[-31.1,61],[-30.7,48],[-30.3,90],
  [-29.9,57],[-29.6,70],[-29.2,36],[-28.8,64],[-28.4,79],[-28.1,51],[-27.7,43],[-27.3,68],[-27.0,87],[-26.6,55],
  [-26.2,33],[-25.8,62],[-25.5,74],[-25.1,46],[-24.7,58],[-24.4,81],[-24.0,38],[-23.6,63],[-23.2,50],[-22.9,71],
  [-22.5,29],[-22.1,57],[-21.8,66],[-21.4,42],[-21.0,77],[-20.6,53],[-20.3,35],[-19.9,61],[-19.5,48],[-19.2,69],
  [-18.8,31],[-18.4,55],[-18.0,44],[-17.7,62],[-17.3,27],[-16.9,51],[-16.5,38],[-16.2,73],[-15.8,46],[-15.4,57],
  [-15.1,33],[-14.7,49],[-14.3,24],[-13.9,60],[-13.6,41],[-13.2,53],[-12.8,30],[-12.5,45],[-12.1,66],[-11.7,37],
  [-11.3,50],[-11.0,22],[-10.6,43],[-10.2,58],[-9.9,34],[-9.5,47],[-9.1,27],[-8.7,55],[-8.4,39],[-8.0,44],
  [-7.6,20],[-7.3,51],[-6.9,36],[-6.5,62],[-6.1,29],[-5.8,42],[-5.4,48],[-5.0,25],[-4.7,38],[-4.3,54],
  [-3.9,31],[-3.5,45],[-3.2,19],[-2.8,40],[-2.4,57],[-2.1,33],[-1.7,27],[-1.3,46],[-0.9,37],[-0.6,22],
  [-0.2,50],[0.2,31],[0.6,41],[0.9,18],[1.3,35],[1.7,47],[2.0,26],[2.4,39],[2.8,14],[3.1,32],
  [3.5,44],[3.9,23],[4.3,36],[4.6,29],[5.0,51],[5.4,17],[5.7,34],[6.1,40],[6.5,25],[6.8,31],
  [7.2,12],[7.6,38],[8.0,45],[8.3,21],[8.7,33],[9.1,27],[9.4,42],[9.8,16],[10.2,30],[10.5,37],
  [10.9,24],[11.3,48],[11.6,19],[12.0,34],[12.4,28],[12.8,40],[13.1,13],[13.5,31],[13.9,25],[14.2,44],
  [14.6,20],[15.0,35],[15.3,29],[15.7,11],[16.1,38],[16.4,26],[16.8,32],[17.2,46],[17.5,18],[17.9,30],
  [18.3,23],[18.7,39],[19.0,15],[19.4,33],[19.8,27],[20.1,42],[20.5,21],[20.9,35],[21.2,12],[21.6,29],
  [22.0,37],[22.3,24],[22.7,31],[23.1,17],[23.4,43],[23.8,26],[24.2,33],[24.6,20],[24.9,28],[25.3,10],
  [25.7,36],[26.0,22],[26.4,30],[26.8,41],[27.1,16],[27.5,27],[27.9,34],[28.2,19],[28.6,25],[29.0,38],
  [29.3,13],[29.7,30],[30.1,23],[30.5,45],[30.8,18],[31.2,28],[31.6,35],[31.9,11],[32.3,26],[32.7,32],
  [33.0,21],[33.4,39],[33.8,15],[34.1,29],[34.5,24],[34.9,36],[35.2,9],[35.6,27],[36.0,33],[36.4,18],
  [36.7,40],[37.1,22],[37.5,30],[37.8,14],[38.2,26],[38.6,35],[38.9,20],[39.3,28],[39.7,12],[40.1,33],
  [40.4,24],[40.8,41],[41.2,17],[41.5,29],[41.9,22],[42.3,36],[42.6,10],[43.0,27],[43.4,31],[43.8,19],
  [44.1,38],[44.5,23],[44.9,14],[45.2,30],[45.6,25],[46.0,35],[46.3,11],[46.7,28],[47.1,20],[47.4,33],
  [47.8,16],[48.2,26],[48.6,39],[48.9,13],[49.3,24],[49.7,31],[50.0,18],[50.4,28],[50.8,10],[51.1,34],
  [51.5,21],[51.9,27],[52.2,15],[52.6,30],[53.0,23],[53.3,37],[53.7,12],[54.1,25],[54.4,19],[54.8,32],
  [55.2,28],[55.5,14],[55.9,22],[56.3,35],[56.6,17],[57.0,26],[57.4,11],[57.7,29],[58.1,21],[58.5,33],
  [58.8,16],[59.2,24],[59.6,30],[59.9,13],[60.3,27],[60.7,20],[61.0,36],[61.4,15],[61.8,25],[62.1,31],
  [62.5,18],[62.9,23],[63.2,28],[63.5,12],[65.4,14],[65.9,21],[66.3,10],[66.9,17],[67.4,24],[67.8,12],
  [68.4,19],[68.9,9],[69.5,15],[70.0,22],[70.7,11],[71.3,18],[71.9,13],[72.6,20],[73.4,10],[74.2,15],
  [75.5,12],[76.8,17],[78.3,10],[79.6,14],[80.4,9],[80.9,15],[81.3,11],[81.8,7],[82.2,13],[81.1,17],
  [81.6,12],
  [-44.4,88],[-43.7,63],[-43.0,117],[-42.4,79],[-41.7,54],[-41.0,99],[-40.3,68],[-39.6,85],[-38.9,41],[-38.2,76],
  [-37.6,93],[-36.9,58],[-36.2,81],[-35.5,49],[-34.8,66],[-34.1,80],[-33.5,38],[-32.8,61],[-32.1,72],[-31.4,47],
  [-30.7,58],[-30.0,83],[-29.4,42],[-28.7,55],[-28.0,68],[-27.3,36],[-26.6,50],[-25.9,71],[-25.2,31],[-24.6,54],
  [-23.9,45],[-23.2,60],[-22.5,39],[-21.8,51],[-21.1,27],[-20.5,47],[-19.8,58],[-19.1,35],[-18.4,49],[-17.7,24],
  [-17.0,43],[-16.4,55],[-15.7,30],[-15.0,41],[-14.3,52],[-13.6,26],[-12.9,38],[-12.3,47],[-11.6,29],[-10.9,41],
  [-10.2,19],[-9.5,35],[-8.8,46],[-8.2,28],[-7.5,37],[-6.8,17],[-6.1,41],[-5.4,31],[-4.7,47],[-4.1,22],
  [-3.4,36],[-2.7,29],[-2.0,42],[-1.3,18],[-0.6,33],[0.0,27],[0.7,39],[1.4,15],[2.1,30],[2.8,24],
  [3.5,37],[4.1,19],[4.8,28],[5.5,42],[6.2,14],[6.9,33],[7.6,25],[8.2,36],[8.9,12],[9.6,29],
  [10.3,21],[11.0,38],[11.7,17],[12.3,31],[13.0,24],[13.7,9],[14.4,35],[15.1,20],[15.8,28],[16.4,40],
  [17.1,15],[17.8,26],[18.5,33],[19.2,11],[19.9,24],[20.5,37],[21.2,19],[21.9,29],[22.6,14],[23.3,32],
  [24.0,23],[24.6,39],[25.3,17],[26.0,27],[26.7,12],[27.4,34],[28.1,21],[28.7,29],[29.4,16],[30.1,36],
  [30.8,24],[31.5,11],[32.2,31],[32.8,19],[33.5,27],[34.2,35],[34.9,14],[35.6,25],[36.3,30],[36.9,10],
  [37.6,23],[38.3,33],[39.0,17],[39.7,27],[40.4,21],[41.0,37],[41.7,13],[42.4,26],[43.1,31],[43.8,18],
  [44.5,28],[45.1,12],[45.8,24],[46.5,33],[47.2,16],[47.9,27],[48.6,21],[49.2,11],[49.9,30],[50.6,19],
  [51.3,25],[52.0,35],[52.7,14],[53.3,23],[54.0,29],[54.7,10],[55.4,26],[56.1,20],[56.8,32],[57.4,15],
  [58.1,24],[58.8,28],[59.5,12],[60.2,22],[60.9,31],[61.5,17],[62.2,26],[62.9,13]
];

const xTickValues = [-90, -45, 0, 45, 90];
const yTickValues = [0, 0.2, 0.4];
const legendEntries = [
  { text: 'original estimated formal errors', color: '#0000ff', width: 702 },
  { text: 'inflated coordinate errors', color: '#000000', width: 563 }
];

const axisColor = '#262626';
const tickFont = '"Liberation Sans", Arial, Helvetica, sans-serif';

const svg = d3.select('#chart');
svg.append('rect').attr('width', 1574).attr('height', 1140).attr('fill', '#ffffff');

const x = d3.scaleLinear().domain([-90, 90]).range([199, 1493]);

const panels = [
  { id: 'ra', top: 33, bottom: 416, inflated: raInflated, formal: raFormal, ylabel: 'RA* [mas]', xlabelY: 550, xlabelSize: 50 },
  { id: 'de', top: 625, bottom: 1010, inflated: deInflated, formal: deFormal, ylabel: 'De [mas]', xlabelY: 1128, xlabelSize: 48 }
];

const crossPath = 'M-4.5,-4.5L4.5,4.5M-4.5,4.5L4.5,-4.5';

panels.forEach(p => {
  const y = d3.scaleLinear().domain([0, 0.5]).range([p.bottom, p.top]);
  const g = svg.append('g');

  g.append('clipPath').attr('id', 'clip-' + p.id)
    .append('rect')
    .attr('x', x.range()[0]).attr('y', p.top)
    .attr('width', x.range()[1] - x.range()[0]).attr('height', p.bottom - p.top);

  const marks = g.append('g').attr('clip-path', `url(#clip-${p.id})`);

  marks.append('g').selectAll('circle')
    .data(p.inflated)
    .join('circle')
    .attr('cx', d => x(d[0]))
    .attr('cy', d => y(d[1] / 1000))
    .attr('r', 5.5)
    .attr('fill', 'none')
    .attr('stroke', '#000000')
    .attr('stroke-width', 1.6);

  marks.append('g').selectAll('path')
    .data(p.formal)
    .join('path')
    .attr('transform', d => `translate(${x(d[0])},${y(d[1] / 1000)})`)
    .attr('d', crossPath)
    .attr('fill', 'none')
    .attr('stroke', '#0000ff')
    .attr('stroke-width', 1.5);

  // axes with inward ticks on all four sides
  const bottomAxis = d3.axisBottom(x).tickValues(xTickValues).tickSize(-14).tickSizeOuter(0).tickPadding(36)
    .tickFormat(d => String(d));
  const topAxis = d3.axisTop(x).tickValues(xTickValues).tickSize(-14).tickSizeOuter(0).tickFormat('');
  const leftAxis = d3.axisLeft(y).tickValues(yTickValues).tickSize(-14).tickSizeOuter(0).tickPadding(20)
    .tickFormat(d => d === 0 ? '0' : d.toFixed(1));
  const rightAxis = d3.axisRight(y).tickValues(yTickValues).tickSize(-14).tickSizeOuter(0).tickFormat('');

  const axes = [
    g.append('g').attr('transform', `translate(0,${p.bottom})`).call(bottomAxis),
    g.append('g').attr('transform', `translate(0,${p.top})`).call(topAxis),
    g.append('g').attr('transform', `translate(${x.range()[0]},0)`).call(leftAxis),
    g.append('g').attr('transform', `translate(${x.range()[1]},0)`).call(rightAxis)
  ];
  axes.forEach(a => {
    a.select('.domain').remove();
    a.selectAll('.tick line').attr('stroke', axisColor).attr('stroke-width', 1.5);
    a.selectAll('.tick text')
      .attr('fill', axisColor)
      .style('font-family', tickFont)
      .style('font-size', '46px');
  });

  g.append('rect')
    .attr('x', x.range()[0]).attr('y', p.top)
    .attr('width', x.range()[1] - x.range()[0]).attr('height', p.bottom - p.top)
    .attr('fill', 'none').attr('stroke', axisColor).attr('stroke-width', 2);

  // axis titles
  g.append('text')
    .attr('x', (x.range()[0] + x.range()[1]) / 2)
    .attr('y', p.xlabelY)
    .attr('text-anchor', 'middle')
    .attr('fill', axisColor)
    .style('font-family', tickFont)
    .style('font-size', p.xlabelSize + 'px')
    .text('De');

  const yl = g.append('text')
    .attr('transform', `translate(97,${(p.top + p.bottom) / 2}) rotate(-90)`)
    .attr('text-anchor', 'middle')
    .attr('fill', axisColor)
    .style('font-family', tickFont)
    .style('font-size', '52px');
  yl.append('tspan').style('font-style', 'italic').text('σ');
  yl.append('tspan').text(p.ylabel);
});

// legend text in the upper panel
const legend = svg.append('g');
legendEntries.forEach((e, i) => {
  legend.append('text')
    .attr('x', 778)
    .attr('y', 93 + i * 65)
    .attr('fill', e.color)
    .attr('textLength', e.width)
    .attr('lengthAdjust', 'spacingAndGlyphs')
    .style('font-family', 'Lato, "Open Sans", sans-serif')
    .style('font-weight', 700)
    .style('font-size', '47px')
    .text(e.text);
});
</script>
</body>
</html>
